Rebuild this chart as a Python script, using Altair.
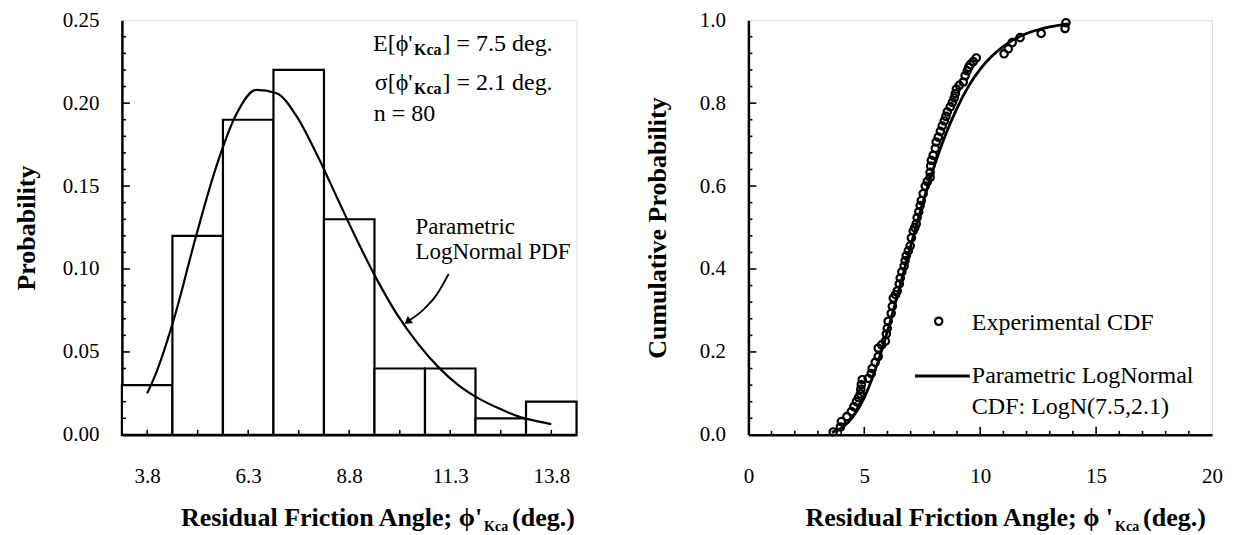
import altair as alt
import pandas as pd

FONT = "Liberation Serif"

# ---------------- left panel: histogram + lognormal PDF ----------------
bin_centers = [3.8, 5.05, 6.3, 7.55, 8.8, 10.05, 11.3, 12.55, 13.8]
bin_probs = [0.03, 0.12, 0.19, 0.22, 0.13, 0.04, 0.04, 0.01, 0.02]
BIN_W = 1.25

pdf_x = [3.8, 4.0, 4.5, 5.0, 5.5, 6.0, 6.5, 7.0, 7.5, 8.0, 8.5, 9.0, 9.5,
         10.0, 10.5, 11.0, 11.5, 12.0, 12.5, 13.0, 13.5, 13.8]
pdf_y = [0.025, 0.036, 0.073, 0.119, 0.161, 0.193, 0.208, 0.206, 0.192, 0.169,
         0.143, 0.117, 0.093, 0.072, 0.055, 0.041, 0.030, 0.022, 0.016, 0.011,
         0.008, 0.0065]

arrow_x = [11.26, 10.97, 10.63, 10.24]
arrow_y = [0.0970, 0.0847, 0.0754, 0.0682]

left_xlabels = [3.8, 6.3, 8.8, 11.3, 13.8]
left_yticks = [0.0, 0.05, 0.10, 0.15, 0.20, 0.25]
left_ymajor = [0.05, 0.10, 0.15, 0.20]
left_yminor = [0.01, 0.02, 0.03, 0.04, 0.06, 0.07, 0.08, 0.09, 0.11, 0.12,
               0.13, 0.14, 0.16, 0.17, 0.18, 0.19, 0.21, 0.22, 0.23, 0.24]

# ---------------- right panel: experimental + parametric CDF ----------------
exp_x = [3.66, 3.97, 4.01, 4.25, 4.44, 4.55, 4.66, 4.75, 4.83, 4.85,
         4.87, 4.91, 5.17, 5.30, 5.34, 5.47, 5.60, 5.60, 5.75, 5.91,
         5.95, 5.99, 6.03, 6.16, 6.21, 6.25, 6.35, 6.42, 6.51, 6.55,
         6.62, 6.72, 6.76, 6.81, 6.90, 6.98, 7.03, 7.11, 7.18, 7.24,
         7.28, 7.35, 7.41, 7.46, 7.54, 7.63, 7.72, 7.84, 7.84, 7.86,
         7.89, 7.97, 8.06, 8.10, 8.19, 8.28, 8.36, 8.45, 8.52, 8.58,
         8.71, 8.80, 8.88, 8.93, 8.97, 9.10, 9.27, 9.35, 9.44, 9.50,
         9.57, 9.70, 9.83, 11.03, 11.21, 11.38, 11.72, 12.63, 13.66, 13.70]
exp_y = [0.007, 0.019, 0.032, 0.044, 0.056, 0.068, 0.080, 0.090, 0.099, 0.110,
         0.121, 0.133, 0.136, 0.148, 0.160, 0.175, 0.189, 0.209, 0.217, 0.226,
         0.243, 0.257, 0.274, 0.293, 0.310, 0.330, 0.338, 0.347, 0.364, 0.378,
         0.393, 0.407, 0.420, 0.432, 0.444, 0.456, 0.475, 0.492, 0.500, 0.509,
         0.524, 0.538, 0.553, 0.565, 0.582, 0.600, 0.611, 0.621, 0.633, 0.648,
         0.662, 0.674, 0.691, 0.706, 0.718, 0.732, 0.745, 0.757, 0.768, 0.779,
         0.791, 0.802, 0.8125, 0.823, 0.834, 0.843, 0.851, 0.866, 0.878, 0.886,
         0.893, 0.900, 0.909, 0.919, 0.931, 0.946, 0.958, 0.968, 0.980, 0.994]

cdf_x = [3.6, 4.0, 4.5, 5.0, 5.5, 6.0, 6.5, 7.0, 7.5, 8.0, 8.5, 9.0, 9.5,
         10.0, 10.5, 11.0, 11.5, 12.0, 12.5, 13.0, 13.5, 13.8]
cdf_y = [0.006, 0.016, 0.043, 0.090, 0.161, 0.250, 0.351, 0.455, 0.555, 0.645,
         0.723, 0.788, 0.841, 0.882, 0.913, 0.937, 0.955, 0.968, 0.977, 0.984,
         0.989, 0.991]

right_xticks = [0, 5, 10, 15, 20]
right_yticks = [0.0, 0.2, 0.4, 0.6, 0.8, 1.0]
right_xmajor = [5, 10, 15]
right_xminor = [1, 2, 3, 4, 6, 7, 8, 9, 11, 12, 13, 14, 16, 17, 18, 19]
right_ymajor = [0.2, 0.4, 0.6, 0.8]
right_yminor = [0.04, 0.08, 0.12, 0.16, 0.24, 0.28, 0.32, 0.36, 0.44, 0.48,
                0.52, 0.56, 0.64, 0.68, 0.72, 0.76, 0.84, 0.88, 0.92, 0.96]

# ---------------- layout ----------------
W_L, W_R, H = 455, 464, 415

common_axis = dict(ticks=False, grid=False, domainColor="black", domainWidth=2.5,
                   labelFont=FONT, labelFontSize=21, labelColor="black",
                   labelFlush=False, labelOverlap=False, titleFont=FONT,
                   titleFontSize=26, titleFontWeight="bold", titleColor="black")

lx_scale = alt.Scale(domain=[3.175, 14.425], nice=False, zero=False)
ly_scale = alt.Scale(domain=[0, 0.25], nice=False)
rx_scale = alt.Scale(domain=[0, 20], nice=False)
ry_scale = alt.Scale(domain=[0, 1], nice=False)

lx_axis = alt.Axis(values=left_xlabels, format=".1f", title=None, labelPadding=31, **common_axis)
ly_axis = alt.Axis(values=left_yticks, format=".2f", title="Probability",
                   labelPadding=23, titlePadding=23, **common_axis)
rx_axis = alt.Axis(values=right_xticks, format="d", title=None, labelPadding=31, **common_axis)
ry_axis = alt.Axis(values=right_yticks, format=".1f", title="Cumulative Probability",
                   labelPadding=23, titlePadding=29, **common_axis)


def LX(f):
    return alt.X(f, type="quantitative", scale=lx_scale, axis=lx_axis)


def LY(f):
    return alt.Y(f, type="quantitative", scale=ly_scale, axis=ly_axis)


def RX(f):
    return alt.X(f, type="quantitative", scale=rx_scale, axis=rx_axis)


def RY(f):
    return alt.Y(f, type="quantitative", scale=ry_scale, axis=ry_axis)


def txt(X, Y, x, y, s, size=24, align="left", dx=0, dy=0, bold=False):
    return alt.Chart(pd.DataFrame({"x": [x], "y": [y]})).mark_text(
        text=s, align=align, baseline="middle", dx=dx, dy=dy, font=FONT,
        fontSize=size, fontWeight="bold" if bold else "normal", color="black"
    ).encode(x=X("x"), y=Y("y"))


def ptxt(px, py, s, size, align, bold=True):
    return alt.Chart(pd.DataFrame({"a": [0]})).mark_text(
        text=s, align=align, baseline="alphabetic", font=FONT, fontSize=size,
        fontWeight="bold" if bold else "normal", color="black"
    ).encode(x=alt.value(px), y=alt.value(py))


def xtitle(width, phi):
    c = width / 2
    return [
        ptxt(c + 133, H + 91, "Residual Friction Angle; " + phi, 26, "right"),
        ptxt(c + 135, H + 96, "Kca", 14, "left"),
        ptxt(c + 163, H + 91, "(deg.)", 26, "left"),
    ]


def yticks(Y, major, minor):
    a = alt.Chart(pd.DataFrame({"y": major})).mark_rule(color="black", strokeWidth=1.6).encode(
        y=Y("y"), x=alt.value(0), x2=alt.value(8))
    b = alt.Chart(pd.DataFrame({"y": minor})).mark_rule(color="black", strokeWidth=1.6).encode(
        y=Y("y"), x=alt.value(0), x2=alt.value(4))
    return [a, b]


def xticks(X, vals, length):
    return alt.Chart(pd.DataFrame({"x": vals})).mark_rule(color="black", strokeWidth=1.6).encode(
        x=X("x"), y=alt.value(H), y2=alt.value(H - length))


# ---- left ----
hist_df = pd.DataFrame({"c": bin_centers, "p": bin_probs})
bars = alt.Chart(hist_df).transform_calculate(
    x0=f"datum.c - {BIN_W / 2}", x1=f"datum.c + {BIN_W / 2}", zero="0"
).mark_bar(fill="white", stroke="black", strokeWidth=2.2).encode(
    x=LX("x0"), x2=alt.X2("x1"), y=LY("p"), y2=alt.Y2("zero"))

pdf_line = alt.Chart(pd.DataFrame({"x": pdf_x, "y": pdf_y})).mark_line(
    color="black", strokeWidth=2.2, interpolate="monotone").encode(x=LX("x"), y=LY("y"))

arrow_line = alt.Chart(pd.DataFrame({"x": arrow_x, "y": arrow_y})).mark_line(
    color="black", strokeWidth=1.8, interpolate="monotone").encode(x=LX("x"), y=LY("y"))
arrow_head = alt.Chart(pd.DataFrame({"x": arrow_x[-1:], "y": arrow_y[-1:]})).mark_point(
    shape="triangle-up", filled=True, color="black", size=75, angle=233, opacity=1
).encode(x=LX("x"), y=LY("y"))

left_layers = [bars, pdf_line, arrow_line, arrow_head]
left_layers += yticks(LY, left_ymajor, left_yminor)
left_layers.append(xticks(LX, bin_centers, 5))

XA = 11.11  # anchor of the closing bracket
left_layers += [
    txt(LX, LY, XA, 0.2356, "E[\u03d5'", align="right", dx=-30),
    txt(LX, LY, XA, 0.2356, "Kca", size=16, align="right", dx=-1, dy=6, bold=True),
    txt(LX, LY, XA, 0.2356, "] = 7.5 deg."),
    txt(LX, LY, XA, 0.2121, "\u03c3[\u03d5'", align="right", dx=-30),
    txt(LX, LY, XA, 0.2121, "Kca", size=16, align="right", dx=-1, dy=6, bold=True),
    txt(LX, LY, XA, 0.2121, "] = 2.1 deg."),
    txt(LX, LY, 9.41, 0.1935, "n = 80"),
    txt(LX, LY, 10.44, 0.1256, "Parametric", size=23),
    txt(LX, LY, 10.44, 0.1104, "LogNormal PDF", size=23),
]
left_layers += xtitle(W_L, "\u03d5'")

left = alt.layer(*left_layers).properties(width=W_L, height=H)

# ---- right ----
pts = alt.Chart(pd.DataFrame({"x": exp_x, "y": exp_y})).mark_point(
    shape="circle", filled=False, color="black", strokeWidth=2.2, size=55, opacity=1
).encode(x=RX("x"), y=RY("y"))

cdf_line = alt.Chart(pd.DataFrame({"x": cdf_x, "y": cdf_y})).mark_line(
    color="black", strokeWidth=2.8, interpolate="monotone").encode(x=RX("x"), y=RY("y"))

leg_pt = alt.Chart(pd.DataFrame({"x": [8.21], "y": [0.274]})).mark_point(
    shape="circle", filled=False, color="black", strokeWidth=2.2, size=55, opacity=1
).encode(x=RX("x"), y=RY("y"))
leg_line = alt.Chart(pd.DataFrame({"x": [7.19], "x2": [9.55], "y": [0.142]})).mark_rule(
    color="black", strokeWidth=3).encode(x=RX("x"), x2=alt.X2("x2"), y=RY("y"))

right_layers = [cdf_line, pts, leg_pt, leg_line]
right_layers += yticks(RY, right_ymajor, right_yminor)
right_layers.append(xticks(RX, right_xmajor, 8))
right_layers.append(xticks(RX, right_xminor, 4))
right_layers += [
    txt(RX, RY, 9.64, 0.270, "Experimental CDF"),
    txt(RX, RY, 9.64, 0.142, "Parametric LogNormal"),
    txt(RX, RY, 9.64, 0.068, "CDF:  LogN(7.5,2.1)"),
]
right_layers += xtitle(W_R, "\u03d5 '")

right = alt.layer(*right_layers).properties(width=W_R, height=H)

chart = alt.hconcat(left, right, spacing=65).properties(
    padding={"left": 4, "top": 0, "right": 5, "bottom": 0}
).configure_view(stroke="black", strokeWidth=2).configure(background="white")

chart.save("out.html", embed_options={"renderer": "svg", "actions": False})
